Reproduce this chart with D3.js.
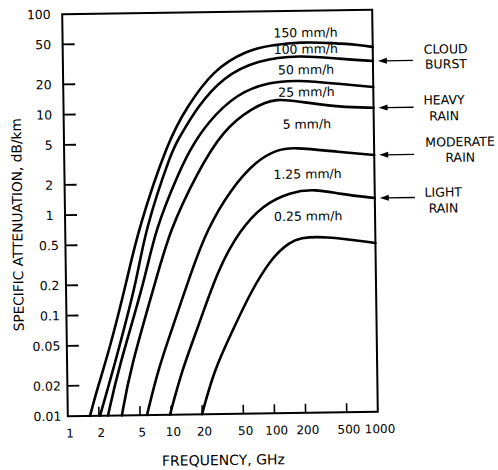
<!DOCTYPE html>
<html><head><meta charset="utf-8">
<script src="https://cdn.jsdelivr.net/npm/d3@7/dist/d3.min.js"></script>
<style>
body{margin:0;background:#fff;}
svg{display:block;}
text{font-family:"DejaVu Sans",sans-serif;fill:#000;}
</style></head><body>
<svg id="chart" width="498" height="470"></svg>
<script>
// ---- data ----
const rainRates = ["150 mm/h","100 mm/h","50 mm/h","25 mm/h","5 mm/h","1.25 mm/h","0.25 mm/h"];
const freq150 = [1.64, 1.98, 2.61, 3.90, 5.06, 10.2, 15.7, 28.3, 60.7, 109, 198, 414, 755, 1000];
const att150  = [0.01, 0.0197, 0.047, 0.222, 0.695, 5.41, 11.5, 26.5, 41.5, 46.2, 49, 47.4, 44.9, 42.7];
const freq100 = [2.05, 2.78, 3.19, 4.87, 5.92, 11.07, 12.7, 19.6, 35.3, 75.6, 197.5, 481, 1000];
const att100  = [0.01, 0.0284, 0.0468, 0.221, 0.694, 4.30, 5.40, 11.4, 22.5, 32.9, 36.4, 32.8, 31.0];
const freq50  = [2.45, 3.10, 5.82, 7.39, 13.1, 16.5, 24.3, 48, 100.4, 183, 477, 1000];
const att50   = [0.01, 0.0283, 0.221, 0.692, 2.71, 4.28, 7.9, 15.5, 19.8, 20.5, 18.5, 17.1];
const freq25  = [3.34, 4.05, 7.44, 10.3, 19.2, 34.7, 68.2, 116.8, 195, 474, 1000];
const att25   = [0.01, 0.0282, 0.22, 0.688, 2.52, 6.69, 11.2, 13.7, 12.4, 10.9, 10.6];
const freq5   = [5.84, 7.56, 10.4, 16.6, 23.5, 39.8, 73.3, 114.9, 160.6, 467, 1000];
const att5    = [0.01, 0.028, 0.0696, 0.273, 0.68, 1.69, 3.33, 4.16, 4.43, 3.89, 3.6];
const freq125 = [9.75, 12.9, 18.3, 29.7, 49.1, 82.7, 151.5, 265, 461, 1000];
const att125  = [0.01, 0.0277, 0.069, 0.277, 0.673, 1.185, 1.58, 1.68, 1.487, 1.34];
const freq025 = [19.9, 26.4, 40.7, 60.2, 99.4, 149, 186.6, 312, 1000];
const att025  = [0.01, 0.0275, 0.0682, 0.158, 0.359, 0.503, 0.55, 0.571, 0.479];

const xTicks = [1, 2, 5, 10, 20, 50, 100, 200, 500, 1000];
const xTickLabels = ["1","2","5","10","20","50","100","200","500","1000"];
const yTicks = [0.01, 0.02, 0.05, 0.1, 0.2, 0.5, 1, 2, 5, 10, 20, 50, 100];
const yTickLabels = ["0.01","0.02","0.05","0.1","0.2","0.5","1","2","5","10","20","50","100"];

const labelFreq = 225;
const labelValues = [60.8, 41.7, 26.0, 15.6, 7.47, 2.38, 0.907];

const annLine1 = ["CLOUD", "HEAVY", "MODERATE", "LIGHT"];
const annLine2 = ["BURST", "RAIN", "RAIN", "RAIN"];
const annTarget = [1, 3, 4, 5];   // index of the rain-rate curve each arrow points to

const xTitle = "FREQUENCY, GHz";
const yTitle = "SPECIFIC ATTENUATION, dB/km";

// ---- layout (not data) ----
const annLayout = [
  {dx: 73,   dy1: -11, dy2: 4},
  {dx: 70.5, dy1: -7,  dy2: 9},
  {dx: 86,   dy1: -12, dy2: 3.5},
  {dx: 68.5, dy1: -5,  dy2: 11}
];

const series = [
  {freq: freq150, att: att150}, {freq: freq100, att: att100}, {freq: freq50, att: att50},
  {freq: freq25, att: att25}, {freq: freq5, att: att5}, {freq: freq125, att: att125},
  {freq: freq025, att: att025}
].map((s, i) => ({name: rainRates[i], points: s.freq.map((f, j) => [f, s.att[j]])}));

const svg = d3.select("#chart");
svg.append("rect").attr("width", 498).attr("height", 470).attr("fill", "#fff");
const g = svg.append("g").attr("transform", "rotate(-0.8 219.75 213)");

const x = d3.scaleLog().domain([1, 1000]).range([65, 375]);
const y = d3.scaleLog().domain([0.01, 100]).range([414, 12]);
const [x0, x1] = x.range();
const [yb, yt] = y.range();

// frame
g.append("rect")
  .attr("x", x0).attr("y", yt).attr("width", x1 - x0).attr("height", yb - yt)
  .attr("fill", "none").attr("stroke", "#000").attr("stroke-width", 2);

// y ticks & labels
g.selectAll(".yt").data(yTicks.filter(v => v > 0.01 && v < 100)).enter().append("line")
  .attr("x1", x0).attr("x2", x0 + 12).attr("y1", d => y(d)).attr("y2", d => y(d))
  .attr("stroke", "#000").attr("stroke-width", 1.8);
g.selectAll(".yl").data(yTicks).enter().append("text")
  .attr("x", (d, i) => x0 - (yTickLabels[i].includes(".") ? 6.5 : 11.5))
  .attr("y", d => y(d)).attr("dy", "0.36em")
  .attr("text-anchor", "end").attr("font-size", 12.5)
  .text((d, i) => yTickLabels[i]);

// x ticks & labels
g.selectAll(".xt").data(xTicks.filter(v => v > 1 && v < 1000)).enter().append("line")
  .attr("x1", d => x(d)).attr("x2", d => x(d)).attr("y1", yb).attr("y2", yb - 9)
  .attr("stroke", "#000").attr("stroke-width", 1.6);
g.selectAll(".xl").data(xTicks).enter().append("text")
  .attr("x", d => x(d) + 2).attr("y", yb + 17).attr("dy", "0.36em")
  .attr("text-anchor", "middle").attr("font-size", 12)
  .text((d, i) => xTickLabels[i]);

// axis titles
g.append("text").attr("x", (x0 + x1) / 2).attr("y", yb + 46).attr("dy", "0.36em")
  .attr("text-anchor", "middle").attr("font-size", 14).text(xTitle);
g.append("text").attr("transform", `translate(17.3,${(yb + yt) / 2 + 9}) rotate(-90)`)
  .attr("dy", "0.36em").attr("text-anchor", "middle").attr("font-size", 13.7).text(yTitle);

// curves
const line = d3.line().x(d => x(d[0])).y(d => y(d[1])).curve(d3.curveBasis);
g.selectAll(".curve").data(series).enter().append("path")
  .attr("d", d => line(d.points))
  .attr("fill", "none").attr("stroke", "#000").attr("stroke-width", 2.6)
  .attr("stroke-linejoin", "round").attr("stroke-linecap", "round");

// curve labels
g.selectAll(".cl").data(rainRates).enter().append("text")
  .attr("x", x(labelFreq)).attr("y", (d, i) => y(labelValues[i])).attr("dy", "0.36em")
  .attr("text-anchor", "middle").attr("font-size", 12.5).text(d => d);

// annotations with arrows
annLine1.forEach((t, i) => {
  const s = series[annTarget[i]];
  const ay = y(s.points[s.points.length - 1][1]);
  const tip = x(1000) + 5, tail = x(1000) + 40;
  g.append("line").attr("x1", tip + 6).attr("x2", tail).attr("y1", ay).attr("y2", ay)
    .attr("stroke", "#000").attr("stroke-width", 1.3);
  g.append("path")
    .attr("d", d3.line()([[tip, ay], [tip + 9, ay - 3], [tip + 9, ay + 3]]) + "Z")
    .attr("fill", "#000");
  const L = annLayout[i];
  g.append("text").attr("x", x(1000) + L.dx).attr("y", ay + L.dy1).attr("dy", "0.36em")
    .attr("text-anchor", "middle").attr("font-size", 12.5).text(t);
  g.append("text").attr("x", x(1000) + L.dx).attr("y", ay + L.dy2).attr("dy", "0.36em")
    .attr("text-anchor", "middle").attr("font-size", 12.5).text(annLine2[i]);
});
</script>
</body></html>
